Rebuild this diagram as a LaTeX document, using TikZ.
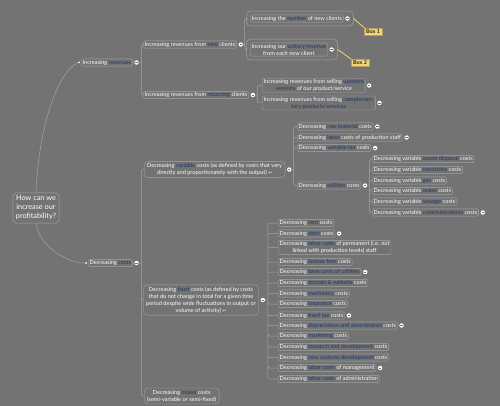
\documentclass[tikz,border=0pt]{standalone}
\usepackage{fontspec}
\setmainfont{Lato}
\newfontfamily\symfont{DejaVu Sans}
\usetikzlibrary{positioning,fit,shapes}

\definecolor{bgray}{HTML}{737373}
\definecolor{edgegray}{HTML}{A4A4A4}
\definecolor{keyblue}{HTML}{1C3A68}
\definecolor{noteyellow}{HTML}{F4D47A}
\newcommand{\kw}[1]{\textcolor{keyblue}{#1}}
\newcommand{\noteicon}{{\symfont\fontsize{4.5}{5}\selectfont ↩}}

\tikzset{
topic/.style={draw=edgegray, fill=bgray, text=white, rounded corners=1.5pt, line width=0.4pt,
  font=\fontsize{5.6}{7}\selectfont, inner xsep=1.4pt, inner ysep=1pt, anchor=west, align=center},
bigtopic/.style={topic, rounded corners=4pt, inner xsep=3pt, inner ysep=2pt},
central/.style={draw=edgegray, text=white, rounded corners=4pt, line width=0.5pt,
  font=\fontsize{7.3}{9}\selectfont, inner sep=3pt, align=center},
fold/.style={circle, fill=white, inner sep=0pt, minimum size=4.4pt,
  path picture={\draw[bgray, line width=0.6pt] (path picture bounding box.center) ++(-1.2pt,0pt) -- ++(2.4pt,0pt);}},
dot/.style={circle, fill=white, inner sep=0pt, minimum size=2pt},
link/.style={draw=edgegray, line width=0.5pt, rounded corners=2pt},
boundary/.style={draw=edgegray, rounded corners=4pt, line width=0.5pt, inner sep=3.5pt},
callout/.style={fill=noteyellow, draw=noteyellow!75!black, line width=0.3pt, text=black!85,
  font=\bfseries\fontsize{5.4}{6}\selectfont, inner xsep=2.2pt, inner ysep=1.6pt},
callline/.style={draw=noteyellow, line width=0.8pt}
}

\begin{document}
\begin{tikzpicture}[x=1pt,y=-1pt]
\fill[bgray] (0,0) rectangle (500,406);
\useasboundingbox (0,0) rectangle (500,406);

% central topic and main branches
\node[central] (root) at (36,208) {How can we\\increase our\\profitability?};
\node[topic] (rev) at (81,62.5) {Increasing \kw{revenues}};
\node[topic] (costs) at (88,263) {Decreasing \kw{costs}};
\node[dot] (revdot) at ([xshift=-2]rev.west) {};
\node[dot] (costsdot) at ([xshift=-2]costs.west) {};
\node[fold, right=1.5pt of rev] (revf) {};
\node[fold, right=1.5pt of costs] (costsf) {};
\draw[link] (root.north) .. controls +(3,-70) and +(-20,8) .. (revdot)
(root.south) .. controls +(3,22) and +(-20,0) .. (costsdot);

% revenues
\node[topic] (newcl) at (143,44.5) {Increasing revenues from \kw{new} clients};
\node[topic] (retcl) at (143,95) {Increasing revenues from \kw{returning} clients};
\node[fold, right=1.5pt of newcl] (newclf) {};
\node[fold, right=1.5pt of retcl] (retclf) {};
\draw[link] (revf.east) -- ++(2.5,0) coordinate (rsp) (rsp) |- (newcl.west) (rsp) |- (retcl.west);

\node[topic] (numcl) at (250,18.5) {Increasing the \kw{number} of new clients};
\node[topic] (unitrev) at (250,49.5) {Increasing our \kw{unitary revenue}\\from each new client};
\node[fold, right=1.5pt of numcl] (numclf) {};
\node[fold, right=1.5pt of unitrev] (unitrevf) {};
\node[boundary, fit=(numcl) (numclf)] (bnd1) {};
\node[boundary, fit=(unitrev) (unitrevf)] (bnd2) {};
\draw[link] (newclf.east) -- ++(1.5,0) coordinate (nsp) (nsp) |- (bnd1.west) (nsp) |- (bnd2.west);

\draw[callline] (bnd1.east) -- (368,31);
\draw[callline] (bnd2.east) -- (355,62);
\node[callout] (box1) at (373,32) {Box 1};
\node[callout] (box2) at (360,63) {Box 2};

\node[topic] (upd) at (262,85.5) {Increasing revenues from selling \kw{updated}\\\kw{versions} of our product/service};
\node[topic] (compl) at (262,103) {Increasing revenues from selling \kw{complemen-}\\\kw{tary products/services}};
\node[fold, right=1.5pt of upd] (updf) {};
\node[fold, right=1.5pt of compl] (complf) {};
\draw[link] (retclf.east) -- ++(2,0) coordinate (tsp) (tsp) |- (upd.west) (tsp) |- (compl.west);

% costs
\node[bigtopic] (varc) at (144,169.5) {Decreasing \kw{variable} costs (as defined by costs that very\\directly and proportionately with the output) \noteicon};
\node[bigtopic] (fixc) at (143,300) {Decreasing \kw{fixed} costs (as defined by costs\\that do not change in total for a given time\\period despite wide fluctuations in output or\\volume of activity) \noteicon};
\node[bigtopic] (mixc) at (144,396) {Decreasing \kw{mixed} costs\\(semi-variable or semi-fixed)};
\node[fold, right=1.5pt of varc] (varcf) {};
\node[fold, right=1.5pt of fixc] (fixcf) {};
\draw[link] (costsf.east) -- ++(2.5,0) coordinate (csp) (csp) |- (varc.west) (csp) |- (fixc.west) (csp) |- (mixc.west);

% variable costs
\node[topic] (rawm) at (297,126.5) {Decreasing \kw{raw material} costs};
\node[topic] (labp) at (297,137.5) {Decreasing \kw{labor} costs of production staff};
\node[topic] (vtax) at (297,148) {Decreasing \kw{variable tax} costs};
\node[topic] (util) at (297,185.5) {Decreasing \kw{utilities} costs};
\node[fold, right=1.5pt of rawm] (rawmf) {};
\node[fold, right=1.5pt of labp] (labpf) {};
\node[fold, right=1.5pt of vtax] (vtaxf) {};
\node[fold, right=1.5pt of util] (utilf) {};
\draw[link] (varcf.east) -- ++(2,0) coordinate (vsp) (vsp) |- (rawm.west) (vsp) |- (labp.west) (vsp) |- (vtax.west) (vsp) |- (util.west);

\node[topic] (waste) at (372,159) {Decreasing variable \kw{waste disposal} costs};
\node[topic] (elec) at (372,170) {Decreasing variable \kw{electricity} costs};
\node[topic] (gas) at (372,180.5) {Decreasing variable \kw{gas} costs};
\node[topic] (water) at (372,191) {Decreasing variable \kw{water} costs};
\node[topic] (sewage) at (372,201.5) {Decreasing variable \kw{sewage} costs};
\node[topic] (comm) at (372,212.5) {Decreasing variable \kw{communications} costs};
\node[fold, right=1.5pt of comm] (commf) {};
\draw[link] (utilf.east) -- ++(2,0) coordinate (usp) (usp) |- (waste.west) (usp) |- (elec.west) (usp) |- (gas.west)
(usp) |- (water.west) (usp) |- (sewage.west) (usp) |- (comm.west);

% fixed costs
\node[topic] (rent) at (278,223) {Decreasing \kw{rent} costs};
\node[topic] (debt) at (278,233.5) {Decreasing \kw{debt} costs};
\node[topic] (labperm) at (278,247.5) {Decreasing \kw{labor costs} of permanent (i.e. not\\linked with production levels) staff};
\node[topic] (lic) at (278,262) {Decreasing \kw{license fees} costs};
\node[topic] (baseu) at (278,272) {Decreasing \kw{base costs of utilities}};
\node[topic] (domain) at (278,283) {Decreasing \kw{domain \& website} costs};
\node[topic] (mach) at (278,293.5) {Decreasing \kw{machinery} costs};
\node[topic] (insur) at (278,304) {Decreasing \kw{insurance} costs};
\node[topic] (ftax) at (278,315.5) {Decreasing \kw{fixed tax} costs};
\node[topic] (depr) at (278,325.5) {Decreasing \kw{depreciation and amortization} costs};
\node[topic] (mkt) at (278,336) {Decreasing \kw{marketing} costs};
\node[topic] (rnd) at (278,347) {Decreasing \kw{research and development} costs};
\node[topic] (nsys) at (278,357.5) {Decreasing \kw{new systems development} costs};
\node[topic] (labman) at (278,368) {Decreasing \kw{labor costs} of management};
\node[topic] (labadm) at (278,379) {Decreasing \kw{labor costs} of administration};
\node[fold, right=1.5pt of debt] (debtf) {};
\node[fold, right=1.5pt of baseu] (baseuf) {};
\node[fold, right=1.5pt of ftax] (ftaxf) {};
\node[fold, right=1.5pt of depr] (deprf) {};
\node[fold, right=1.5pt of labman] (labmanf) {};
\draw[link] (fixcf.east) -- ++(2.5,0) coordinate (fsp) (fsp) |- (rent.west) (fsp) |- (debt.west) (fsp) |- (labperm.west)
(fsp) |- (lic.west) (fsp) |- (baseu.west) (fsp) |- (domain.west) (fsp) |- (mach.west) (fsp) |- (insur.west)
(fsp) |- (ftax.west) (fsp) |- (depr.west) (fsp) |- (mkt.west) (fsp) |- (rnd.west) (fsp) |- (nsys.west)
(fsp) |- (labman.west) (fsp) |- (labadm.west);
\end{tikzpicture}
\end{document}
